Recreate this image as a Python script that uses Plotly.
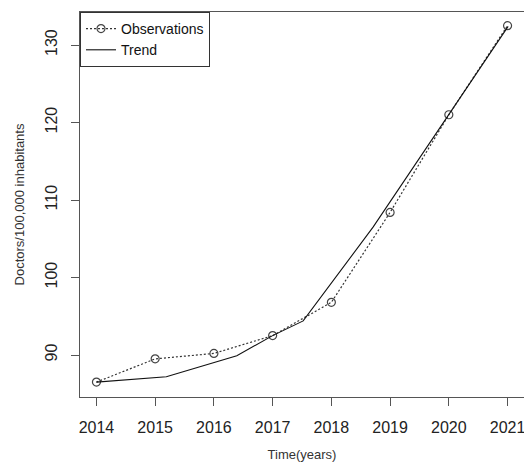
import plotly.graph_objects as go

years = [2014, 2015, 2016, 2017, 2018, 2019, 2020, 2021]
observations = [86.5, 89.5, 90.2, 92.5, 96.8, 108.4, 121.0, 132.5]

trend_x = [2014.0, 2015.19, 2016.39, 2017.0, 2017.52, 2018.71, 2021.01]
trend_y = [86.5, 87.2, 89.9, 92.5, 94.4, 106.5, 132.4]

tick_years = [2014, 2015, 2016, 2017, 2018, 2019, 2020, 2021]
tick_y = [90, 100, 110, 120, 130]

FONT = "Liberation Sans, Arial, sans-serif"

fig = go.Figure()
fig.add_trace(go.Scatter(
    x=years, y=observations, mode="lines+markers", name="Observations",
    line=dict(color="#333333", width=1.2, dash="2px,2px"),
    marker=dict(symbol="circle-open", size=8, color="#444444", line=dict(width=1.2)),
    cliponaxis=False,
))
fig.add_trace(go.Scatter(
    x=trend_x, y=trend_y, mode="lines", name="Trend",
    line=dict(color="#111111", width=1.1),
))

axis_common = dict(
    showgrid=False, zeroline=False, showline=True, mirror=True,
    linecolor="#555555", linewidth=1.2,
    ticks="outside", ticklen=8, tickcolor="#555555", tickwidth=1.2,
    tickfont=dict(family=FONT, size=16, color="#222222"),
)

fig.update_layout(
    width=524, height=462,
    margin=dict(l=80, r=0, t=12, b=65),
    paper_bgcolor="white", plot_bgcolor="white",
    font=dict(family=FONT, color="#222222"),
    xaxis=dict(
        range=[2013.72, 2021.28], tickvals=tick_years,
        ticktext=[str(v) for v in tick_years],
        title=dict(text="Time(years)", font=dict(family=FONT, size=13, color="#333333"), standoff=14),
        ticklabelstandoff=8, ticklabeloverflow="allow",
        **axis_common,
    ),
    yaxis=dict(
        range=[84.58, 134.26], tickvals=tick_y,
        ticktext=[str(v) for v in tick_y], tickangle=-90,
        title=dict(text="Doctors/100,000 inhabitants", font=dict(family=FONT, size=13, color="#333333"), standoff=14),
        ticklabelstandoff=8,
        **axis_common,
    ),
    legend=dict(
        x=0, y=1, xanchor="left", yanchor="top",
        bordercolor="#333333", borderwidth=1, bgcolor="white",
        font=dict(family=FONT, size=14, color="#111111"),
        tracegroupgap=0, itemwidth=30,
    ),
    showlegend=True,
)

fig.write_html("out.html")
